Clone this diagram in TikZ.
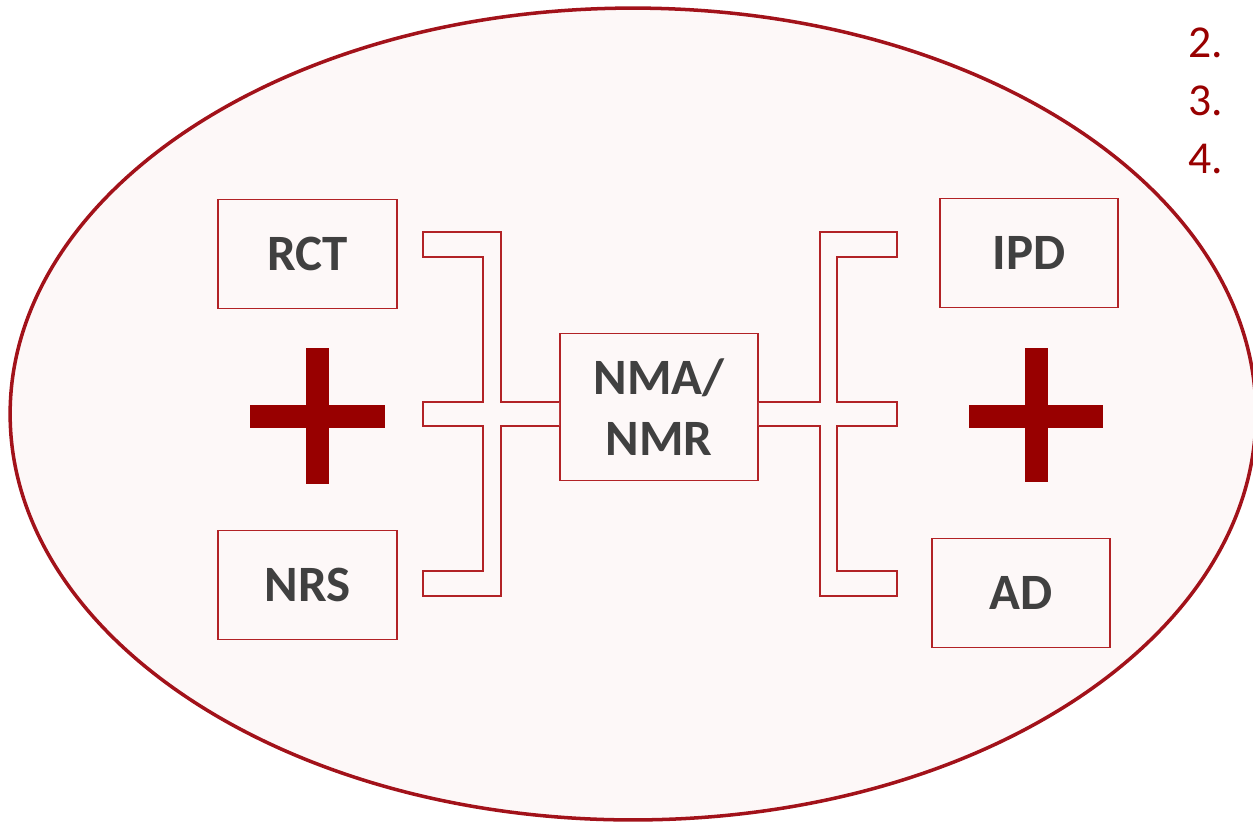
\documentclass[tikz,border=0pt]{standalone}
\usepackage{fontspec}
\setmainfont{Carlito}
\usetikzlibrary{positioning, calc}

\definecolor{ovalred}{RGB}{162,18,26}
\definecolor{boxred}{RGB}{178,34,38}
\definecolor{plusred}{RGB}{152,0,0}
\definecolor{ovalfill}{RGB}{253,248,248}
\definecolor{labelgray}{RGB}{64,64,64}

\begin{document}
\begin{tikzpicture}[x=0.02cm, y=-0.02cm,
		studybox/.style={draw=boxred, line width=0.9pt, fill=ovalfill, text=labelgray,
			font=\bfseries\fontsize{29}{35}\selectfont, align=center,
			minimum width=3.57cm, minimum height=2.18cm, inner sep=0pt},
		bracket/.style={draw=boxred, line width=0.85pt, fill=ovalfill, line join=miter},
		plusbar/.style={fill=plusred, draw=none},
		itemnum/.style={text=plusred, font=\fontsize{26}{30}\selectfont, anchor=west, inner sep=0pt}]
			% Page
			\useasboundingbox (0,0) rectangle (1253,823);
			
			% Oval
			\draw[ovalred, line width=2pt, fill=ovalfill] (633,414) ellipse [x radius=12.46cm, y radius=8.12cm];
			
			% List numbers
			\node[itemnum] (n2) at (1188,43) {2.};
			\node[itemnum] (n3) at (1188,101) {3.};
			\node[itemnum] (n4) at (1188,159) {4.};
			
			% Boxes
			\node[studybox] (rct) at (307.5,254) {RCT};
			\node[studybox] (nrs) at (307.5,585) {NRS};
			\node[studybox] (ipd) at (1029,253) {IPD};
			\node[studybox] (ad) at (1021,593) {AD};
			\node[studybox, minimum width=3.96cm, minimum height=2.94cm] (nma) at (659,407) {NMA/\\NMR};
			
			% Left bracket
			\draw[bracket] ($(nma.west)+(0,-5)$) -- (501,402) -- (501,232) -- (423,232) -- (423,257)
				-- (483,257) -- (483,402) -- (423,402) -- (423,426) -- (483,426) -- (483,571)
				-- (423,571) -- (423,596) -- (501,596) -- (501,426) -- ($(nma.west)+(0,19)$);
			
			% Right bracket
			\draw[bracket] ($(nma.east)+(0,-5)$) -- (820,402) -- (820,232) -- (897,232) -- (897,257)
				-- (837,257) -- (837,402) -- (897,402) -- (897,426) -- (837,426) -- (837,571)
				-- (897,571) -- (897,596) -- (820,596) -- (820,426) -- ($(nma.east)+(0,19)$);
			
			% Plus signs
			\fill[plusbar] (250,405) rectangle (385,428);
			\fill[plusbar] (306,348) rectangle (329,484);
			\fill[plusbar] (969,405) rectangle (1103,428);
			\fill[plusbar] (1025,348) rectangle (1048,482);
			
		\end{tikzpicture}
\end{document}
